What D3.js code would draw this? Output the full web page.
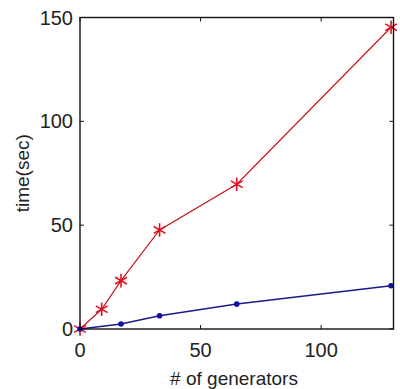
<!DOCTYPE html>
<html lang="en">
<head>
	<meta charset="utf-8">
	<title>Time vs generators</title>
	<script src="https://d3js.org/d3.v7.min.js"></script>
	<style>
	body { margin: 0; background: #fff; }
	text { font-family: "Liberation Sans", Arial, sans-serif; fill: #222; }
	.tick-label { font-size: 20px; }
	.axis-label { font-size: 19px; }
	</style>
</head>
<body>
	<script>
		// data
		var redX = [0, 9, 17, 33, 65, 129];
		var redY = [0, 9.5, 23.3, 47.7, 69.7, 145.3];
		var blueX = [0, 17, 33, 65, 129];
		var blueY = [0, 2.4, 6.4, 12, 20.8];
		var xTicks = [0, 50, 100];
		var yTicks = [0, 50, 100, 150];

		var w = 400, h = 389;
		var pL = 80, pR = 393.5, pT = 17.5, pB = 329;

		var svg = d3.select("body").append("svg")
			.attr("width", w)
			.attr("height", h);

		var x = d3.scaleLinear().domain([0, 130]).range([pL, pR]);
		var y = d3.scaleLinear().domain([0, 150]).range([pB, pT]);

		// ticks (inward, all four sides)
		var tl = 4;
		var g = svg.append("g").attr("stroke", "#111").attr("stroke-width", 1);
		xTicks.forEach(function(t) {
			g.append("line").attr("x1", x(t)).attr("x2", x(t)).attr("y1", pB).attr("y2", pB - tl);
			g.append("line").attr("x1", x(t)).attr("x2", x(t)).attr("y1", pT).attr("y2", pT + tl);
		});
		yTicks.forEach(function(t) {
			g.append("line").attr("x1", pL).attr("x2", pL + tl).attr("y1", y(t)).attr("y2", y(t));
			g.append("line").attr("x1", pR).attr("x2", pR - tl).attr("y1", y(t)).attr("y2", y(t));
		});

		svg.selectAll("text.xt")
			.data(xTicks)
			.enter().append("text")
			.attr("class", "tick-label xt")
			.attr("x", function(d) { return x(d); })
			.attr("y", 357)
			.attr("text-anchor", "middle")
			.text(function(d) { return d; });

		svg.selectAll("text.yt")
			.data(yTicks)
			.enter().append("text")
			.attr("class", "tick-label yt")
			.attr("x", 73)
			.attr("y", function(d) { return y(d) + 7; })
			.attr("text-anchor", "end")
			.text(function(d) { return d; });

		svg.append("text")
			.attr("class", "axis-label")
			.attr("x", 234)
			.attr("y", 385)
			.attr("text-anchor", "middle")
			.text("# of generators");

		svg.append("text")
			.attr("class", "axis-label")
			.attr("transform", "translate(29," + ((pT + pB) / 2) + ") rotate(-90)")
			.attr("text-anchor", "middle")
			.text("time(sec)");

		var line = d3.line()
			.x(function(d) { return x(d[0]); })
			.y(function(d) { return y(d[1]); });

		var red = d3.zip(redX, redY);
		var blue = d3.zip(blueX, blueY);

		svg.append("path")
			.datum(red)
			.attr("d", line)
			.attr("fill", "none")
			.attr("stroke", "#c8141e")
			.attr("stroke-width", 1.2);

		svg.append("path")
			.datum(blue)
			.attr("d", line)
			.attr("fill", "none")
			.attr("stroke", "#1a1a8c")
			.attr("stroke-width", 1.5);

		// asterisk markers
		var star = d3.symbol().type(d3.symbolAsterisk).size(130);
		svg.selectAll("path.star")
			.data(red)
			.enter().append("path")
			.attr("class", "star")
			.attr("d", star)
			.attr("transform", function(d) { return "translate(" + x(d[0]) + "," + y(d[1]) + ")"; })
			.attr("fill", "none")
			.attr("stroke", "#e01020")
			.attr("stroke-width", 1.6);

		svg.selectAll("circle.dot")
			.data(blue)
			.enter().append("circle")
			.attr("class", "dot")
			.attr("cx", function(d) { return x(d[0]); })
			.attr("cy", function(d) { return y(d[1]); })
			.attr("r", 2.8)
			.attr("fill", "#1010a0");

		// box
		svg.append("rect")
			.attr("x", pL)
			.attr("y", pT)
			.attr("width", pR - pL)
			.attr("height", pB - pT)
			.attr("fill", "none")
			.attr("stroke", "#111")
			.attr("stroke-width", 1.4);
	</script>
</body>
</html>
